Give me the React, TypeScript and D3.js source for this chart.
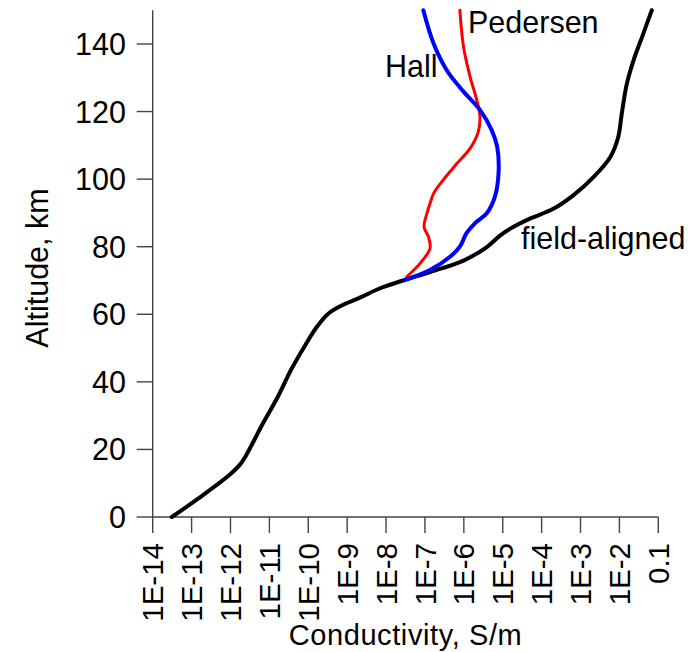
import React from "react";
import * as d3 from "d3";

// Altitude profiles (km) and conductivities (S/m)
const fieldAlt = [0, 5.5, 12.5, 15.5, 18.5, 26.5, 35.6, 43.8, 51, 56, 60.1, 62.4, 65, 67.7, 70, 72.5, 75.9, 79.9, 83.3, 85.8, 88.3, 91.2, 95.2, 100.6, 106.5, 112.4, 119.4, 128.2, 135.1, 143, 150];
const fieldSigma = [3.1e-14, 1.5e-13, 9.5e-13, 1.75e-12, 2.6e-12, 6.0e-12, 1.65e-11, 3.7e-11, 8.5e-11, 1.6e-10, 3.2e-10, 6.6e-10, 2.2e-9, 7.0e-9, 2.75e-8, 1.35e-7, 9.8e-7, 3.9e-6, 8.5e-6, 1.85e-5, 5.0e-5, 2.0e-4, 6.5e-4, 2.15e-3, 5.8e-3, 9.3e-3, 1.15e-2, 1.55e-2, 2.3e-2, 4.1e-2, 6.8e-2];

const pedersenAlt = [71.1, 75, 79.5, 82.9, 85.8, 89.8, 92.8, 95.7, 99.2, 104.6, 109.1, 114, 118.5, 123.4, 130.3, 139.2, 150];
const pedersenSigma = [3.4e-8, 7.4e-8, 1.35e-7, 1.23e-7, 9.5e-8, 1.12e-7, 1.35e-7, 1.66e-7, 2.7e-7, 6.6e-7, 1.45e-6, 2.35e-6, 2.6e-6, 2.15e-6, 1.45e-6, 9.8e-7, 7.9e-7];

const hallAlt = [70.2, 73.1, 77.1, 80, 84, 87, 89.9, 94.8, 101.7, 109.6, 114.5, 120.5, 125.9, 132.3, 140.2, 150];
const hallSigma = [3.1e-8, 1.35e-7, 4.5e-7, 7.9e-7, 1.17e-6, 1.95e-6, 3.9e-6, 6.3e-6, 7.8e-6, 7.2e-6, 5.2e-6, 2.6e-6, 9.8e-7, 3.6e-7, 1.66e-7, 9.1e-8];

const xTickValues = [1e-14, 1e-13, 1e-12, 1e-11, 1e-10, 1e-9, 1e-8, 1e-7, 1e-6, 1e-5, 1e-4, 1e-3, 1e-2, 1e-1];
const xTickLabels = ["1E-14", "1E-13", "1E-12", "1E-11", "1E-10", "1E-9", "1E-8", "1E-7", "1E-6", "1E-5", "1E-4", "1E-3", "1E-2", "0.1"];
const yTickValues = [0, 20, 40, 60, 80, 100, 120, 140];

const W = 691;
const H = 652;
const left = 152.7;
const right = 658.3;
const bottom = 517;
const top = 10.2;
const font = "'Liberation Sans', Arial, Helvetica, sans-serif";
const fs = 30.5;

export default function App() {
  const x = d3.scaleLog().domain([1e-14, 0.1]).range([left, right]);
  const y = d3.scaleLinear().domain([0, 150]).range([bottom, top]);

  const line = d3
    .line<[number, number]>()
    .x((d) => x(d[0]))
    .y((d) => y(d[1]))
    .curve(d3.curveCatmullRom.alpha(0.5));

  const zip = (s: number[], a: number[]) => s.map((v, i) => [v, a[i]] as [number, number]);

  const axisColor = "#444";

  return (
    <svg
      width={W}
      height={H}
      style={{ position: "absolute", left: 0, top: 0, background: "#fff" }}
      fontFamily={font}
    >
      {/* axes */}
      <line x1={left} x2={left} y1={top} y2={bottom} stroke={axisColor} strokeWidth={1.4} />
      <line x1={left} x2={right} y1={bottom} y2={bottom} stroke={axisColor} strokeWidth={1.4} />

      {yTickValues.map((v) => (
        <g key={"y" + v}>
          <line x1={left - 16} x2={left} y1={y(v)} y2={y(v)} stroke={axisColor} strokeWidth={1.4} />
          <text x={126} y={y(v)} dy="0.36em" textAnchor="end" fontSize={fs} fill="#000">
            {v}
          </text>
        </g>
      ))}

      {xTickValues.map((v, i) => (
        <g key={"x" + i}>
          <line x1={x(v)} x2={x(v)} y1={bottom} y2={bottom + 16} stroke={axisColor} strokeWidth={1.4} />
          <text
            transform={`translate(${x(v)},${bottom + 26}) rotate(-90)`}
            dy="0.36em"
            textAnchor="end"
            fontSize={29.5}
            fill="#000"
          >
            {xTickLabels[i]}
          </text>
        </g>
      ))}

      <text
        x={(left + right) / 2}
        y={645}
        textAnchor="middle"
        fontSize={29}
        letterSpacing={0.6}
        fill="#000"
      >
        Conductivity, S/m
      </text>
      <text
        transform={`translate(48,268) rotate(-90)`}
        textAnchor="middle"
        fontSize={fs}
        fill="#000"
      >
        Altitude, km
      </text>

      {/* profiles */}
      <path d={line(zip(fieldSigma, fieldAlt)) || ""} fill="none" stroke="#000" strokeWidth={4} strokeLinecap="round" />
      <path d={line(zip(pedersenSigma, pedersenAlt)) || ""} fill="none" stroke="#ff0000" strokeWidth={3} strokeLinecap="round" />
      <path d={line(zip(hallSigma, hallAlt)) || ""} fill="none" stroke="#0000ff" strokeWidth={4} strokeLinecap="round" />

      {/* curve labels */}
      <text x={468} y={33} fontSize={fs} fill="#000">Pedersen</text>
      <text x={385} y={77} fontSize={fs} fill="#000">Hall</text>
      <text x={521} y={249} fontSize={fs} fill="#000">field-aligned</text>
    </svg>
  );
}
